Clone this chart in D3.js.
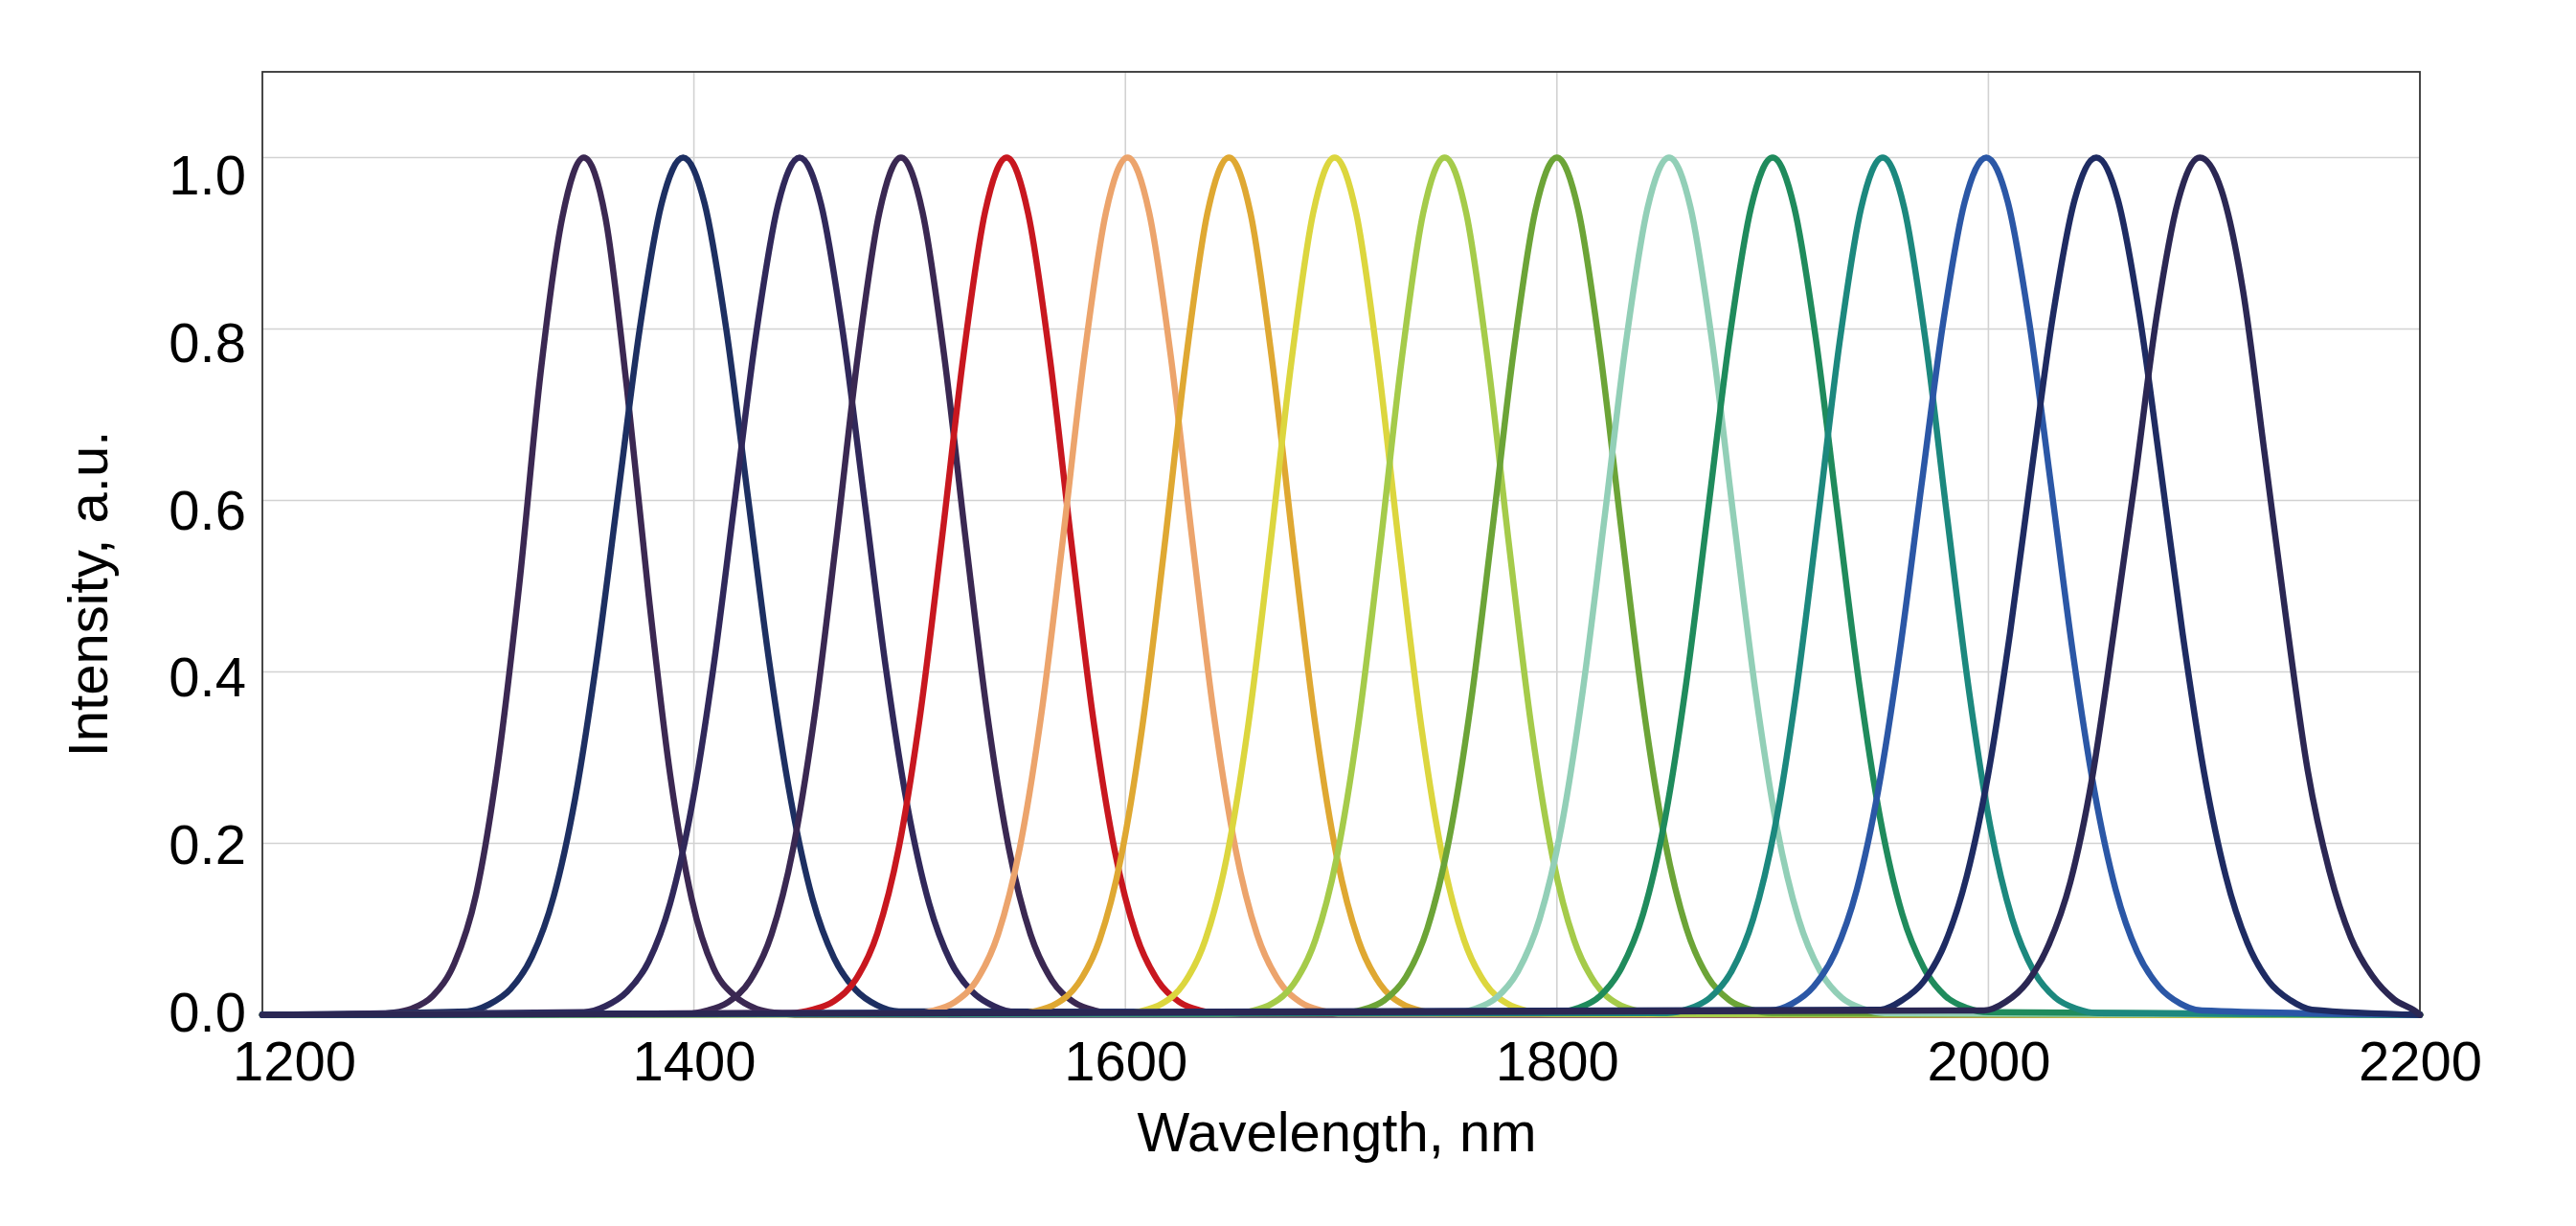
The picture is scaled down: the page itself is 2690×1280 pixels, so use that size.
<!DOCTYPE html>
<html>
<head>
<meta charset="utf-8">
<script src="https://cdn.jsdelivr.net/npm/d3@7"></script>
<style>
  html, body { margin: 0; padding: 0; background: #ffffff; }
  svg { display: block; }
  text { font-family: "Liberation Sans", Arial, sans-serif; fill: #000; }
</style>
</head>
<body>
<svg id="chart" width="2690" height="1280"></svg>
<script>
// ---------------- data ----------------
const xTicks = [1200, 1400, 1600, 1800, 2000, 2200];
const yTicks = [0, 0.2, 0.4, 0.6, 0.8, 1.0];
const xTitle = "Wavelength, nm";
const yTitle = "Intensity, a.u.";

// peak wavelength of every spectrum (nm)
const peakWavelengths = [1349, 1395, 1449, 1496, 1545, 1601, 1648, 1697, 1748, 1800, 1852, 1900, 1951, 1999, 2050, 2098];
// sample positions relative to each peak (nm)
const sampleOffsets = [-100, -90, -80, -70, -60, -50, -40, -30, -20, -10, 0, 10, 20, 30, 40, 50, 60, 70, 80, 90, 100];

const spectrum1350 = [0, 0.002, 0.007, 0.022, 0.06, 0.14, 0.29, 0.5, 0.75, 0.93, 1, 0.93, 0.73, 0.49, 0.28, 0.135, 0.055, 0.022, 0.007, 0.002, 0];
const spectrum1400 = [0.004, 0.012, 0.03, 0.068, 0.138, 0.253, 0.415, 0.609, 0.802, 0.946, 1, 0.946, 0.8, 0.605, 0.41, 0.25, 0.135, 0.066, 0.029, 0.011, 0.004];
const spectrum1450 = [0.003, 0.01, 0.027, 0.062, 0.13, 0.243, 0.404, 0.601, 0.797, 0.945, 1, 0.945, 0.797, 0.601, 0.404, 0.243, 0.13, 0.062, 0.027, 0.01, 0.003];
const spectrum1500 = [0.001, 0.005, 0.015, 0.04, 0.094, 0.194, 0.35, 0.554, 0.769, 0.936, 1, 0.936, 0.769, 0.554, 0.35, 0.194, 0.094, 0.04, 0.015, 0.005, 0.001];
const spectrum1550 = [0.002, 0.006, 0.016, 0.041, 0.095, 0.195, 0.352, 0.556, 0.77, 0.937, 1, 0.934, 0.766, 0.55, 0.347, 0.192, 0.093, 0.04, 0.015, 0.005, 0.001];
const spectrum1600 = [0.001, 0.005, 0.015, 0.04, 0.094, 0.194, 0.35, 0.554, 0.769, 0.936, 1, 0.936, 0.769, 0.554, 0.35, 0.194, 0.094, 0.04, 0.015, 0.005, 0.001];
const spectrum1650 = [0.001, 0.004, 0.013, 0.036, 0.087, 0.184, 0.339, 0.544, 0.763, 0.935, 1, 0.935, 0.763, 0.544, 0.339, 0.184, 0.087, 0.036, 0.013, 0.004, 0.001];
const spectrum1700 = [0.001, 0.004, 0.013, 0.036, 0.087, 0.184, 0.339, 0.544, 0.763, 0.935, 1, 0.935, 0.763, 0.544, 0.339, 0.184, 0.087, 0.036, 0.013, 0.004, 0.001];
const spectrum1750 = [0.001, 0.004, 0.013, 0.036, 0.087, 0.184, 0.339, 0.544, 0.763, 0.935, 1, 0.935, 0.763, 0.544, 0.339, 0.184, 0.087, 0.036, 0.013, 0.004, 0.001];
const spectrum1800 = [0.002, 0.006, 0.017, 0.044, 0.101, 0.204, 0.361, 0.564, 0.775, 0.938, 1, 0.938, 0.775, 0.564, 0.361, 0.204, 0.101, 0.044, 0.017, 0.006, 0.002];
const spectrum1850 = [0.002, 0.007, 0.02, 0.051, 0.112, 0.218, 0.378, 0.578, 0.784, 0.941, 1, 0.941, 0.784, 0.578, 0.378, 0.218, 0.112, 0.051, 0.02, 0.007, 0.002];
const spectrum1900 = [0.003, 0.008, 0.022, 0.055, 0.118, 0.227, 0.388, 0.587, 0.789, 0.942, 1, 0.942, 0.789, 0.587, 0.388, 0.227, 0.118, 0.055, 0.022, 0.008, 0.003];
const spectrum1950 = [0.002, 0.007, 0.02, 0.051, 0.112, 0.218, 0.378, 0.578, 0.784, 0.941, 1, 0.941, 0.784, 0.578, 0.378, 0.218, 0.112, 0.051, 0.02, 0.007, 0.002];
const spectrum2000 = [0.005, 0.013, 0.033, 0.073, 0.146, 0.263, 0.425, 0.618, 0.807, 0.948, 1, 0.948, 0.807, 0.618, 0.425, 0.263, 0.146, 0.073, 0.033, 0.013, 0.005];
const spectrum2050 = [0.006, 0.017, 0.039, 0.084, 0.162, 0.282, 0.445, 0.634, 0.817, 0.951, 1, 0.951, 0.817, 0.634, 0.445, 0.282, 0.162, 0.084, 0.039, 0.017, 0.006];
const spectrum2100 = [0.005, 0.015, 0.038, 0.082, 0.155, 0.275, 0.445, 0.625, 0.815, 0.95, 1, 0.962, 0.845, 0.655, 0.462, 0.285, 0.168, 0.09, 0.045, 0.018, 0.004];

const seriesColors = ["#3b2852", "#1d2f62", "#30285a", "#3a2852", "#c8171f", "#eca46c", "#dfa832", "#dcd63e",
                      "#a5cb4a", "#6ca437", "#92cfb7", "#1f8b5c", "#1c887e", "#2b57a6", "#1e2b62", "#2b2753"];

const spectra = [spectrum1350, spectrum1400, spectrum1450, spectrum1500, spectrum1550, spectrum1600, spectrum1650, spectrum1700,
                 spectrum1750, spectrum1800, spectrum1850, spectrum1900, spectrum1950, spectrum2000, spectrum2050, spectrum2100];

// ---------------- layout ----------------
const W = 2690, H = 1280;
const plot = { left: 274, right: 2527, top: 75, bottom: 1059.5 };
const FONT = 58;

const svg = d3.select("#chart");
svg.append("rect").attr("width", W).attr("height", H).attr("fill", "#ffffff");

const x = d3.scaleLinear().domain([1200, 2200]).range([plot.left, plot.right]);
const y = d3.scaleLinear().domain([0, 1.1]).range([plot.bottom, plot.top]);

// gridlines
const grid = svg.append("g").attr("class", "grid");
grid.selectAll("line.h").data(yTicks.filter(v => v > 0)).join("line")
  .attr("class", "h")
  .attr("x1", plot.left).attr("x2", plot.right)
  .attr("y1", d => y(d)).attr("y2", d => y(d))
  .attr("stroke", "#d2d2d2").attr("stroke-width", 1.6);
grid.selectAll("line.v").data(xTicks.filter(v => v > 1200 && v < 2200)).join("line")
  .attr("class", "v")
  .attr("y1", plot.top).attr("y2", plot.bottom)
  .attr("x1", d => x(d)).attr("x2", d => x(d))
  .attr("stroke", "#d2d2d2").attr("stroke-width", 1.6);

// frame
svg.append("rect")
  .attr("x", plot.left).attr("y", plot.top)
  .attr("width", plot.right - plot.left).attr("height", plot.bottom - plot.top)
  .attr("fill", "none").attr("stroke", "#333333").attr("stroke-width", 1.8);

// axes (labels only)
const xAxis = svg.append("g")
  .attr("transform", `translate(0,${plot.bottom})`)
  .call(d3.axisBottom(x).tickValues(xTicks).tickSize(0).tickFormat(d3.format("d")));
xAxis.select(".domain").remove();
xAxis.selectAll("text")
  .attr("y", 68).attr("dy", null)
  .attr("dx", d => d === 1200 ? 33 : 0)
  .style("font-size", FONT + "px")
  .style("font-family", "'Liberation Sans', Arial, sans-serif")
  .attr("fill", "#000");

const yAxis = svg.append("g")
  .attr("transform", `translate(${plot.left},0)`)
  .call(d3.axisLeft(y).tickValues(yTicks).tickSize(0).tickFormat(d3.format(".1f")));
yAxis.select(".domain").remove();
yAxis.selectAll("text")
  .attr("x", -17).attr("dy", null)
  .attr("y", d => 17 + 21 * d)
  .attr("text-anchor", "end")
  .style("font-size", FONT + "px")
  .style("font-family", "'Liberation Sans', Arial, sans-serif")
  .attr("fill", "#000");

// titles
svg.append("text")
  .attr("x", 1396).attr("y", 1202)
  .attr("text-anchor", "middle")
  .style("font-size", FONT + "px")
  .text(xTitle);
svg.append("text")
  .attr("transform", "translate(112,620) rotate(-90)")
  .attr("text-anchor", "middle")
  .style("font-size", FONT + "px")
  .text(yTitle);

// spectra
const line = d3.line()
  .x(d => x(d[0]))
  .y(d => y(d[1]))
  .curve(d3.curveMonotoneX);

const [xmin, xmax] = x.domain();
const seriesPoints = spectra.map((vals, i) => {
  const pts = vals.map((v, j) => [peakWavelengths[i] + sampleOffsets[j], v])
    .filter(p => p[0] >= xmin && p[0] <= xmax);
  if (pts[0][0] > xmin) pts.unshift([xmin, 0]);
  if (pts[pts.length - 1][0] < xmax) pts.push([xmax, 0]);
  return pts;
});

svg.append("g").attr("class", "spectra")
  .selectAll("path").data(seriesPoints).join("path")
  .attr("d", line)
  .attr("fill", "none")
  .attr("stroke", (d, i) => seriesColors[i])
  .attr("stroke-width", 6.5)
  .attr("stroke-linejoin", "round")
  .attr("stroke-linecap", "round");
</script>
</body>
</html>
